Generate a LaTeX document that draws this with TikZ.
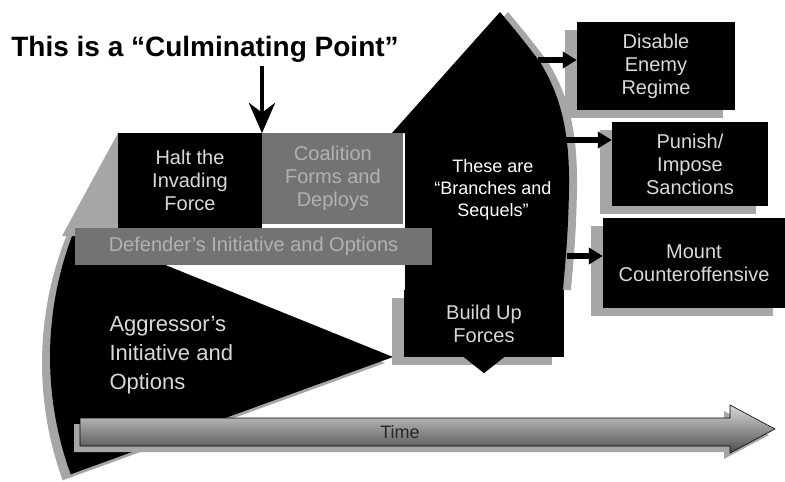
\documentclass[tikz,border=0pt]{standalone}
\usepackage{fontspec}
\setmainfont{Liberation Sans}
\usetikzlibrary{arrows.meta,positioning,shadows}

\begin{document}
\begin{tikzpicture}[x=1pt, y=-1pt,
    shadowfill/.style={fill=black!35},
    boxfont/.style={font=\fontsize{20}{23}\selectfont, align=center},
    darkbox/.style={boxfont, fill=black, text=black!15, inner sep=0pt},
    greybox/.style={boxfont, fill=black!55, text=black!30, inner sep=0pt},
    boxshadow/.style={general shadow={shadowfill, shadow xshift=-12pt, shadow yshift=-8pt}},
    branch/.style={line width=6pt, -{Triangle[length=14pt, width=16pt]}},
    titlefont/.style={font=\fontsize{28}{32}\bfseries\selectfont}
  ]
  \useasboundingbox (0,0) rectangle (785,482);

  % Aggressor wedge (sector centred on its point)
  \fill[shadowfill, xshift=-8pt, yshift=-6pt] (393,357) -- (75,228.5) arc[start angle=202, end angle=160, radius=343] -- cycle;
  \fill (393,357) -- (75,228.5) arc[start angle=202, end angle=160, radius=343] -- cycle;
  \node[font=\fontsize{22}{29}\selectfont, align=left, text=black!15, anchor=west] (aggressor) at (106,355) {Aggressor's\\Initiative and\\Options};

  % Branches and sequels
  \fill[shadowfill, xshift=8pt] (392,133) -- (500,12) .. controls (520,36) .. (540,62) .. controls (560,95) and (570,130) .. (569,190) .. controls (568,240) and (565,265) .. (563,290) -- (405,290) -- (405,133) -- cycle;
  \fill (392,133) -- (500,12) .. controls (520,36) .. (540,62) .. controls (560,95) and (570,130) .. (569,190) .. controls (568,240) and (565,265) .. (563,290) -- (405,290) -- (405,133) -- cycle;
  \node[font=\fontsize{18}{22}\selectfont, align=center, text=white] (branches) at (493,190) {These are\\“Branches and\\Sequels”};

  % Top row
  \fill[shadowfill] (118,133) -- (62,236) -- (118,236) -- cycle;
  \node[darkbox, minimum width=144pt, minimum height=95pt] (halt) at (190,180.5) {Halt the\\Invading\\Force};
  \node[greybox, minimum width=141pt, minimum height=91pt, anchor=north west] (coalition) at (halt.north east) {Coalition\\Forms and\\Deploys};
  \node[greybox, minimum width=357pt, minimum height=37pt] (defender) at (253.5,246.5) {Defender's Initiative and Options};

  \node[darkbox, boxshadow, minimum width=160pt, minimum height=67pt] (build) at (484,323.5) {Build Up\\Forces};
  \fill ([xshift=-20pt]build.south) -- ([yshift=-16pt]build.south) -- ([xshift=20pt]build.south) -- cycle;

  % Time
  \fill[shadowfill, xshift=-6pt, yshift=-6pt] (80,418) -- (730,418) -- (730,405) -- (775,429) -- (730,453) -- (730,446) -- (80,446) -- cycle;
  \shadedraw[top color=black!15, bottom color=black!70, draw=black, line width=0.6pt] (80,418) -- (730,418) -- (730,405) -- (775,429) -- (730,453) -- (730,446) -- (80,446) -- cycle;
  \node[font=\fontsize{18}{20}\selectfont, text=black!85] (time) at (400,432) {Time};

  % Outcomes
  \node[darkbox, boxshadow, minimum width=158pt, minimum height=88pt] (disable) at (656,66) {Disable\\Enemy\\Regime};
  \node[darkbox, boxshadow, minimum width=156pt, minimum height=84pt] (punish) at (690,164) {Punish/\\Impose\\Sanctions};
  \node[darkbox, boxshadow, minimum width=182pt, minimum height=90pt] (mount) at (694,263) {Mount\\Counteroffensive};

  \coordinate (b1) at (538,60);
  \coordinate (b2) at (566,140);
  \coordinate (b3) at (567,256);
  \foreach \s/\t in {b1/disable, b2/punish, b3/mount}{
    \draw[branch, black!35, xshift=-4pt, yshift=-5pt] (\s) -- (\s -| \t.west);
    \draw[branch] (\s) -- (\s -| \t.west);
  }

  % Culminating point
  \node[titlefont] (title) at (205,49) {This is a “Culminating Point”};
  \coordinate (culm) at (262,133);
  \draw[black!35, line width=4pt, -{Stealth[length=30pt, width=26pt]}, xshift=-6pt, yshift=-2pt] (culm |- title.south) -- (culm);
  \draw[line width=4pt, -{Stealth[length=30pt, width=26pt]}] (culm |- title.south) -- (culm);
\end{tikzpicture}
\end{document}
